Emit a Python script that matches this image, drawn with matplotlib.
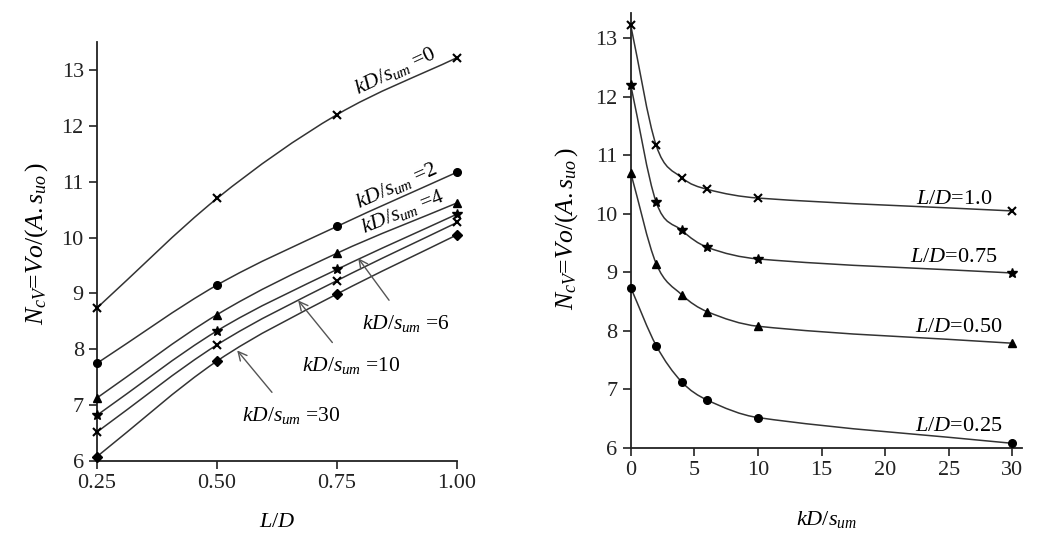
import matplotlib
matplotlib.use('Agg')
import matplotlib.pyplot as plt
from matplotlib.path import Path
from matplotlib.patches import PathPatch
import numpy as np

# data: N_cV for each kD/s_um at each L/D
ld_values = [0.25, 0.50, 0.75, 1.00]
kd_values = [0, 2, 4, 6, 10, 30]
n_kd0 = [8.74, 10.70, 12.20, 13.22]
n_kd2 = [7.75, 9.15, 10.20, 11.17]
n_kd4 = [7.13, 8.62, 9.72, 10.62]
n_kd6 = [6.82, 8.33, 9.43, 10.42]
n_kd10 = [6.52, 8.08, 9.23, 10.27]
n_kd30 = [6.08, 7.79, 8.99, 10.05]

left_series = [n_kd0, n_kd2, n_kd4, n_kd6, n_kd10, n_kd30]
left_markers = ['x', 'o', '^', '*', 'x', 'D']
right_markers = ['o', '^', '*', 'x']   # L/D = 0.25, 0.50, 0.75, 1.0
right_labels = ['L/D=0.25', 'L/D=0.50', 'L/D=0.75', 'L/D=1.0']

plt.rcParams['font.family'] = ['Liberation Serif', 'DejaVu Serif']
plt.rcParams['mathtext.fontset'] = 'custom'
plt.rcParams['mathtext.rm'] = 'Liberation Serif'
plt.rcParams['mathtext.it'] = 'Liberation Serif:italic'
plt.rcParams['mathtext.bf'] = 'Liberation Serif:bold'

LINE = '#333333'


def smooth_line(ax, xs, ys):
    # cubic hermite through the points, drawn as bezier path
    xs = np.asarray(xs, float)
    ys = np.asarray(ys, float)
    h = np.diff(xs)
    d = np.diff(ys) / h
    m = np.zeros_like(ys)
    m[0] = d[0]
    m[-1] = d[-1]
    for i in range(1, len(xs) - 1):
        if d[i - 1] * d[i] <= 0:
            m[i] = 0
        else:
            m[i] = (d[i - 1] * h[i - 1] + d[i] * h[i]) / (h[i] + h[i - 1])
            lim = 3 * min(abs(d[i - 1]), abs(d[i]))
            m[i] = np.sign(m[i]) * min(abs(m[i]), lim)
    verts = [(xs[0], ys[0])]
    codes = [Path.MOVETO]
    for i in range(len(xs) - 1):
        verts += [(xs[i] + h[i] / 3, ys[i] + m[i] * h[i] / 3),
                  (xs[i + 1] - h[i] / 3, ys[i + 1] - m[i + 1] * h[i] / 3),
                  (xs[i + 1], ys[i + 1])]
        codes += [Path.CURVE4] * 3
    ax.add_patch(PathPatch(Path(verts, codes), fill=False, edgecolor=LINE, lw=1.1, clip_on=False))


def style_axes(ax):
    for s in ['top', 'right']:
        ax.spines[s].set_visible(False)
    for s in ['left', 'bottom']:
        ax.spines[s].set_linewidth(1.3)
        ax.spines[s].set_color('#222222')
    ax.tick_params(direction='out', length=6, width=1.2, labelsize=16, colors='#222222')


fig = plt.figure(figsize=(10.53, 5.45), dpi=100)

ylab = r'$N_{cV}$=$Vo/(A.s_{uo}\,)$'

# left panel
ax1 = fig.add_axes([0.0921, 0.154, 0.342, 0.769])
style_axes(ax1)
for ys, mk in zip(left_series, left_markers):
    smooth_line(ax1, ld_values, ys)
    ax1.plot(ld_values, ys, linestyle='none', marker=mk, color='black',
             markersize=5.5 if mk != '*' else 7, markeredgewidth=1.5 if mk == 'x' else 1, clip_on=False, zorder=3)
ax1.set_xlim(0.25, 1.0)
ax1.set_ylim(6, 13.5)
ax1.set_xticks(ld_values)
ax1.set_xticklabels(['0.25', '0.50', '0.75', '1.00'])
ax1.set_yticks(range(6, 14))
ax1.set_xlabel(r'$L/D$', fontsize=16)
ax1.xaxis.set_label_coords(0.5, -0.125)
ax1.set_ylabel(ylab, fontsize=18.5)
ax1.yaxis.set_label_coords(-0.13, 0.52)

ax1.text(0.871, 12.98, r'$kD/s_{um}$ =0', fontsize=15.5, rotation=25, ha='center', va='center')
ax1.text(0.875, 10.93, r'$kD/s_{um}$ =2', fontsize=15.5, rotation=24, ha='center', va='center')
ax1.text(0.887, 10.46, r'$kD/s_{um}$ =4', fontsize=15.5, rotation=22, ha='center', va='center')
arrow = dict(arrowstyle='->', color='#555555', lw=1.0)
ax1.annotate(r'$kD/s_{um}$ =6', xy=(0.794, 9.63), xytext=(0.894, 8.46), fontsize=15.5,
             ha='center', va='center', arrowprops=dict(arrow, shrinkA=9, shrinkB=0))
ax1.annotate(r'$kD/s_{um}$ =10', xy=(0.669, 8.875), xytext=(0.779, 7.71), fontsize=15.5,
             ha='center', va='center', arrowprops=dict(arrow, shrinkA=9, shrinkB=0))
ax1.annotate(r'$kD/s_{um}$ =30', xy=(0.542, 7.98), xytext=(0.654, 6.82), fontsize=15.5,
             ha='center', va='center', arrowprops=dict(arrow, shrinkA=9, shrinkB=0))

# right panel
ax2 = fig.add_axes([0.599, 0.178, 0.372, 0.798])
style_axes(ax2)
right_series = [[s[j] for s in left_series] for j in range(len(ld_values))]
for ys, mk in zip(right_series, right_markers):
    smooth_line(ax2, kd_values, ys)
    ax2.plot(kd_values, ys, linestyle='none', marker=mk, color='black',
             markersize=5.5 if mk != '*' else 7, markeredgewidth=1.5 if mk == 'x' else 1, clip_on=False, zorder=3)
ax2.set_xlim(0, 30.8)
ax2.set_ylim(6, 13.43)
ax2.set_xticks(range(0, 31, 5))
ax2.set_yticks(range(6, 14))
ax2.set_xlabel(r'$kD/s_{um}$', fontsize=16)
ax2.xaxis.set_label_coords(0.5, -0.14)
ax2.set_ylabel(ylab, fontsize=18.5)
ax2.yaxis.set_label_coords(-0.13, 0.505)

label_pos = [(29.2, 6.36), (29.2, 8.05), (28.8, 9.26), (28.4, 10.25)]
for (tx, ty), lab in zip(label_pos, right_labels):
    l, rest = lab.split('=')
    ax2.text(tx, ty, '$' + l + '$=' + rest, fontsize=16, ha='right', va='center')

fig.savefig('out.png', dpi=100)
